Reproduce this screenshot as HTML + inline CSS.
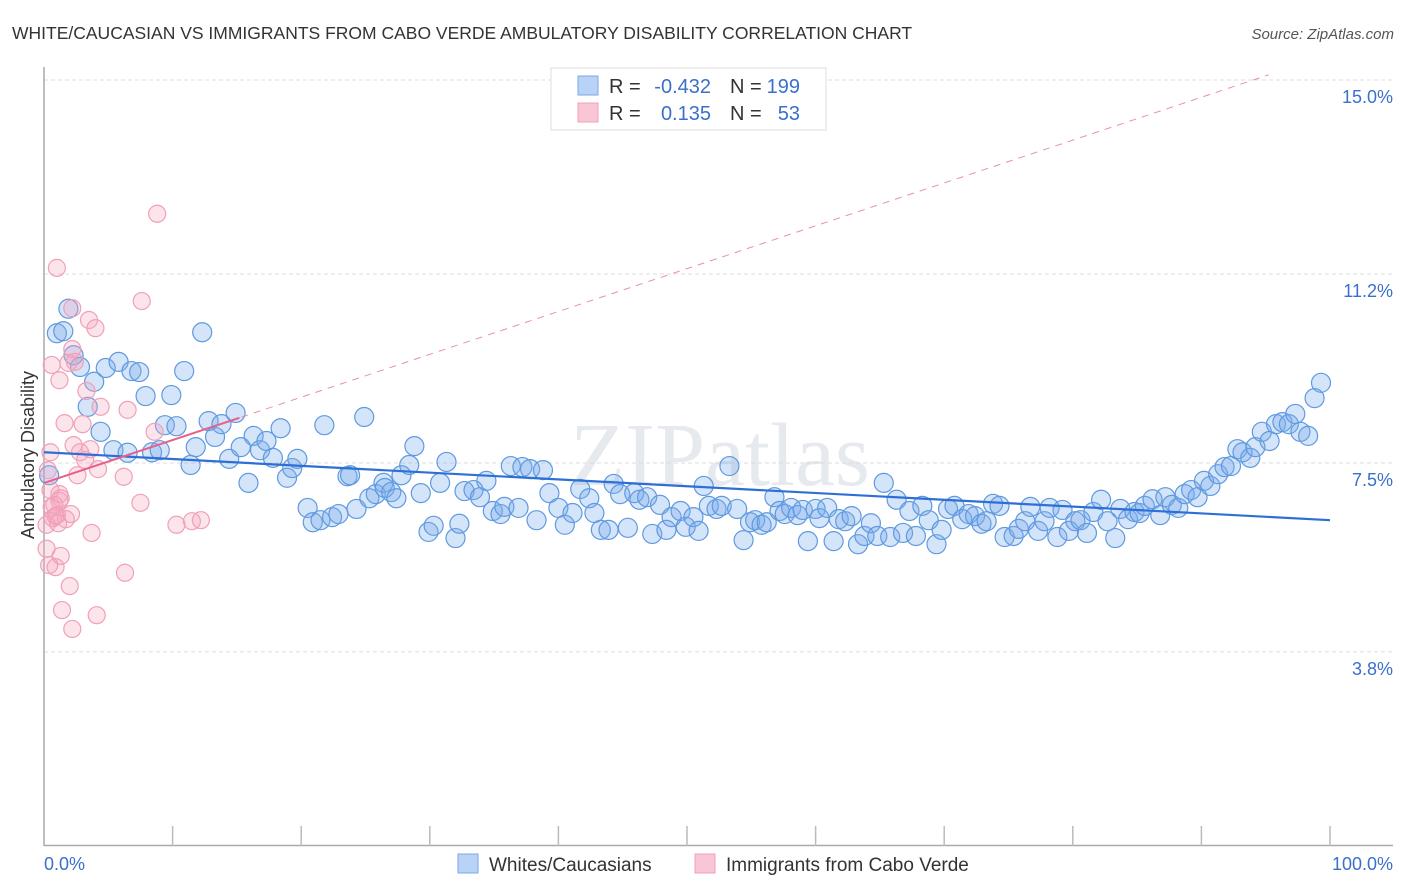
<!DOCTYPE html>
<html><head><meta charset="utf-8"><style>
body{margin:0;background:#fff;font-family:"Liberation Sans",sans-serif;}
svg{display:block}
</style></head><body>
<svg id="chart" width="1406" height="892" xmlns="http://www.w3.org/2000/svg">
<text x="12" y="39" font-size="17.5" fill="#333">WHITE/CAUCASIAN VS IMMIGRANTS FROM CABO VERDE AMBULATORY DISABILITY CORRELATION CHART</text>
<text x="1394" y="39" font-size="15" fill="#555" font-style="italic" text-anchor="end">Source: ZipAtlas.com</text>
<text x="720" y="485" font-size="90" fill="#e6e9ee" text-anchor="middle" font-family="Liberation Serif, serif">ZIPatlas</text>
<g id="grid"></g>
<g id="axes"></g>
<g id="marks"></g>
<text transform="translate(34,455) rotate(-90)" font-size="18" fill="#333" text-anchor="middle">Ambulatory Disability</text>
<g>
<rect x="551" y="68" width="275" height="62" fill="#fff" stroke="#ddd"/>
<rect x="578" y="76" width="20" height="19" fill="#b8d3f5" stroke="#7aa8e6"/>
<rect x="578" y="103" width="20" height="19" fill="#f8c6d5" stroke="#f0a0b8"/>
<text x="609" y="93" font-size="20" fill="#333">R = </text>
<text x="711" y="93" font-size="20" fill="#3a70cc" text-anchor="end">-0.432</text>
<text x="730" y="93" font-size="20" fill="#333">N = </text>
<text x="800" y="93" font-size="20" fill="#3a70cc" text-anchor="end">199</text>
<text x="609" y="120" font-size="20" fill="#333">R = </text>
<text x="711" y="120" font-size="20" fill="#3a70cc" text-anchor="end">0.135</text>
<text x="730" y="120" font-size="20" fill="#333">N = </text>
<text x="800" y="120" font-size="20" fill="#3a70cc" text-anchor="end">53</text>
</g>
<g>
<rect x="458" y="854" width="20" height="19" fill="#b8d3f5" stroke="#7aa8e6"/>
<text x="489" y="871" font-size="19" fill="#333">Whites/Caucasians</text>
<rect x="695" y="854" width="20" height="19" fill="#f8c6d5" stroke="#f0a0b8"/>
<text x="726" y="871" font-size="19" fill="#333">Immigrants from Cabo Verde</text>
</g>
</svg>
<script>
const yTicks=[3.8,7.5,11.2,15.0];
const yTickLabels=["3.8%","7.5%","11.2%","15.0%"];
const xTickLabels=["0.0%","100.0%"];
const blueX=[0.4,1.0,1.5,1.9,2.3,2.8,3.4,3.9,4.4,4.8,5.4,5.8,6.5,6.8,7.4,7.9,8.4,9.0,9.4,9.9,10.3,10.9,11.4,11.8,12.3,12.8,13.3,13.8,14.4,14.9,15.3,15.9,16.3,16.8,17.3,17.8,18.4,18.9,19.3,19.7,20.5,20.9,21.5,21.8,22.4,22.9,23.6,23.8,24.3,24.9,25.3,25.8,26.4,26.5,27.0,27.4,27.8,28.4,28.8,29.3,29.9,30.3,30.8,31.3,32.0,32.3,32.7,33.4,33.9,34.4,34.9,35.5,35.8,36.3,36.9,37.2,37.8,38.3,38.8,39.3,40.0,40.5,41.1,41.7,42.4,42.8,43.3,43.9,44.3,44.8,45.4,45.9,46.3,46.9,47.3,47.9,48.4,48.8,49.5,49.9,50.5,50.9,51.3,51.7,52.3,52.7,53.3,53.9,54.4,54.9,55.3,55.8,56.2,56.8,57.2,57.6,58.1,58.6,59.0,59.4,60.0,60.3,60.9,61.4,61.8,62.3,62.8,63.3,63.8,64.3,64.8,65.3,65.8,66.3,66.8,67.3,67.8,68.3,68.8,69.4,69.8,70.3,70.8,71.4,71.9,72.4,72.9,73.3,73.8,74.3,74.7,75.4,75.8,76.3,76.7,77.3,77.8,78.2,78.8,79.2,79.7,80.2,80.6,81.1,81.6,82.2,82.7,83.3,83.7,84.3,84.8,85.2,85.6,86.2,86.8,87.2,87.7,88.2,88.7,89.2,89.7,90.2,90.7,91.3,91.8,92.3,92.8,93.2,93.8,94.2,94.7,95.3,95.8,96.3,96.8,97.3,97.7,98.3,98.8,99.3];
const blueY=[7.26,10.04,10.08,10.52,9.61,9.38,8.60,9.09,8.11,9.36,7.75,9.48,7.70,9.30,9.28,8.81,7.71,7.75,8.24,8.83,8.22,9.30,7.46,7.81,10.06,8.32,8.01,8.26,7.58,8.48,7.81,7.11,8.03,7.75,7.93,7.60,8.18,7.21,7.40,7.58,6.62,6.34,6.38,8.24,6.44,6.50,7.24,7.26,6.60,8.40,6.81,6.89,7.11,7.01,6.93,6.81,7.26,7.46,7.83,6.91,6.15,6.27,7.11,7.52,6.03,6.31,6.95,6.97,6.83,7.15,6.56,6.50,6.64,7.44,6.62,7.42,7.38,6.38,7.36,6.91,6.62,6.29,6.52,6.99,6.81,6.52,6.19,6.19,7.09,6.89,6.23,6.91,6.78,6.83,6.11,6.68,6.19,6.44,6.56,6.25,6.44,6.17,7.05,6.66,6.60,6.66,7.44,6.60,5.99,6.34,6.38,6.29,6.34,6.83,6.56,6.50,6.62,6.48,6.58,5.97,6.60,6.42,6.62,5.97,6.40,6.36,6.46,5.91,6.07,6.32,6.07,7.11,6.05,6.78,6.13,6.56,6.07,6.66,6.38,5.91,6.19,6.60,6.66,6.40,6.50,6.46,6.31,6.36,6.70,6.66,6.05,6.07,6.21,6.36,6.64,6.17,6.36,6.62,6.05,6.58,6.17,6.36,6.38,6.13,6.54,6.78,6.36,6.03,6.60,6.40,6.54,6.52,6.66,6.79,6.48,6.83,6.68,6.62,6.89,6.97,6.83,7.15,7.05,7.28,7.42,7.44,7.77,7.71,7.60,7.81,8.11,7.93,8.26,8.30,8.26,8.46,8.11,8.03,8.77,9.07];
const pinkX=[0.5,0.6,1.0,1.2,1.3,1.6,1.7,1.9,2.0,2.2,2.2,2.2,2.3,2.4,2.6,2.8,3.0,3.2,3.3,3.5,3.6,3.7,4.0,4.1,4.2,4.4,6.2,6.3,6.5,7.5,7.6,8.6,8.8,10.3,11.5,12.2,0.5,0.6,0.7,0.9,1.0,1.2,1.2,0.3,0.2,0.4,0.9,1.3,1.4,0.2,0.8,1.1,2.1];
const pinkY=[7.71,9.42,11.32,9.12,6.81,8.28,6.40,9.46,5.09,4.25,9.73,10.53,7.85,9.48,7.26,7.71,8.26,7.56,8.91,10.30,7.77,6.13,10.14,4.52,7.38,8.60,7.23,5.35,8.54,6.72,10.67,8.11,12.38,6.29,6.36,6.38,6.97,6.64,6.42,5.46,6.48,6.76,6.89,7.36,5.82,5.50,6.46,5.68,4.62,6.29,6.68,6.32,6.50];
const blueTrend=[7.71,6.38];
const pinkTrend=[7.11,15.5];
const pinkSolidEnd=15.2;

const NS="http://www.w3.org/2000/svg";
const X0=44,X1=1330,YB=846,YPER=51.07;
function sx(p){return X0+(X1-X0)*p/100;}
function sy(v){return YB-v*YPER;}
function mk(tag,attrs,parent){const e=document.createElementNS(NS,tag);for(const k in attrs)e.setAttribute(k,attrs[k]);parent.appendChild(e);return e;}
const grid=document.getElementById('grid'),axes=document.getElementById('axes'),marks=document.getElementById('marks');
yTicks.forEach((t,i)=>{
  const l=mk('line',{x1:X0,x2:1393,y1:sy(t),y2:sy(t),stroke:'#dcdcdc','stroke-dasharray':'4,3'},grid);
  
  
  const tx=mk('text',{x:1393,y:sy(t)+23,'font-size':18,fill:'#3a70cc','text-anchor':'end'},axes);
  tx.textContent=yTickLabels[i];
  
  
});
const ya=mk('line',{x1:X0,x2:X0,y1:67,y2:YB,stroke:'#aaa','stroke-width':1.5},axes);


const xa=mk('line',{x1:X0,x2:1393,y1:YB-0.5,y2:YB-0.5,stroke:'#aaa','stroke-width':1.5},axes);


for(let i=1;i<=10;i++){
  const t=mk('line',{x1:sx(i*10),x2:sx(i*10),y1:826,y2:YB,stroke:'#bbb','stroke-width':1.5},axes);
  
  
}
const xl0=mk('text',{x:44,y:870,'font-size':18,fill:'#3a70cc'},axes);
xl0.textContent=xTickLabels[0];


const xl1=mk('text',{x:1393,y:870,'font-size':18,fill:'#3a70cc','text-anchor':'end'},axes);
xl1.textContent=xTickLabels[1];



blueX.forEach((p,i)=>{
  const c=mk('circle',{cx:sx(p),cy:sy(blueY[i]),r:9.5,fill:'rgba(120,170,235,0.32)',stroke:'#5f9ae0','stroke-width':1.2},marks);
  
  
});
pinkX.forEach((p,i)=>{
  const c=mk('circle',{cx:sx(p),cy:sy(pinkY[i]),r:8.5,fill:'rgba(245,165,190,0.3)',stroke:'#f0a0b8','stroke-width':1.2},marks);
  
  
});
const bt=mk('line',{x1:sx(0),y1:sy(blueTrend[0]),x2:sx(100),y2:sy(blueTrend[1]),stroke:'#2d6fd6','stroke-width':2.2},marks);


const slope=(pinkTrend[1]-pinkTrend[0])/100;
const pEnd=(15.1-pinkTrend[0])/slope;
const pd=mk('line',{x1:sx(0),y1:sy(pinkTrend[0]),x2:sx(pEnd),y2:sy(15.1),stroke:'#e890aa','stroke-width':1,'stroke-dasharray':'7,6'},marks);


const ps=mk('line',{x1:sx(0),y1:sy(pinkTrend[0]),x2:sx(pinkSolidEnd),y2:sy(pinkTrend[0]+slope*pinkSolidEnd),stroke:'#e8608a','stroke-width':2},marks);


</script>
</body></html>
